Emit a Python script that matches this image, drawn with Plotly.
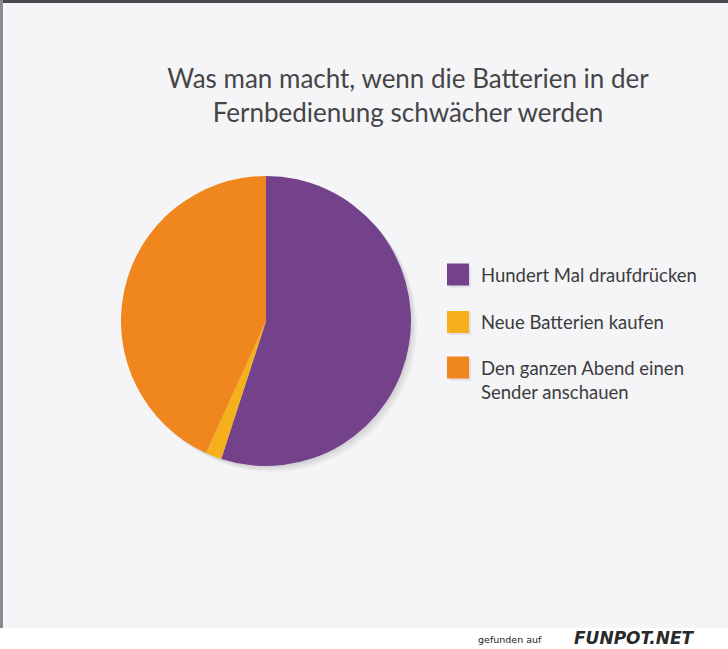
import plotly.graph_objects as go

W, H = 728, 649

labels = ["Hundert Mal draufdrücken", "Neue Batterien kaufen", "Den ganzen Abend einen<br>Sender anschauen"]
values = [55, 1.8, 43.2]
colors = ["#74428a", "#f5b01c", "#f0861e"]

title_text = "Was man macht, wenn die Batterien in der<br>Fernbedienung schwächer werden"

# pie geometry (pixels)
cx, cy, r = 266, 321, 145

fig = go.Figure()
fig.add_trace(go.Pie(
    labels=labels, values=values, sort=False, direction="clockwise", rotation=0,
    marker=dict(colors=colors, line=dict(width=0)),
    textinfo="none", hoverinfo="label+percent", showlegend=False,
    domain=dict(x=[(cx - r) / W, (cx + r) / W], y=[1 - (cy + r) / H, 1 - (cy - r) / H]),
))

shapes = []
# scanned page background
shapes.append(dict(type="rect", xref="paper", yref="paper", x0=0, x1=1, y0=1 - 628 / H, y1=1,
                   fillcolor="#f5f5f7", line=dict(width=0), layer="below"))
shapes.append(dict(type="rect", xref="paper", yref="paper", x0=0, x1=1, y0=1 - 3 / H, y1=1,
                   fillcolor="#4a4a4e", line=dict(width=0), layer="below"))
shapes.append(dict(type="rect", xref="paper", yref="paper", x0=0, x1=3 / W, y0=1 - 628 / H, y1=1,
                   fillcolor="#8a8a90", line=dict(width=0), layer="below"))
# soft pie shadow
for off, op in [(6, 0.05), (4, 0.06), (2, 0.07)]:
    shapes.append(dict(type="circle", xref="paper", yref="paper",
                       x0=(cx - r + off) / W, x1=(cx + r + off) / W,
                       y0=1 - (cy + r + off) / H, y1=1 - (cy - r + off) / H,
                       fillcolor=f"rgba(60,60,70,{op})", line=dict(width=0), layer="below"))

annotations = []
leg_y = [274.5, 322, 367.5]
sq = 22
for lab, col, yc in zip(labels, colors, leg_y):
    shapes.append(dict(type="rect", xref="paper", yref="paper",
                       x0=(447 + 2) / W, x1=(447 + sq + 2) / W,
                       y0=1 - (yc + sq / 2 + 2) / H, y1=1 - (yc - sq / 2 + 2) / H,
                       fillcolor="rgba(80,80,90,0.12)", line=dict(width=0)))
    shapes.append(dict(type="rect", xref="paper", yref="paper",
                       x0=447 / W, x1=(447 + sq) / W,
                       y0=1 - (yc + sq / 2) / H, y1=1 - (yc - sq / 2) / H,
                       fillcolor=col, line=dict(width=0)))
    two = "<br>" in lab
    annotations.append(dict(
        text=lab, xref="paper", yref="paper", x=479 / W,
        y=1 - (yc - 12.5) / H if two else 1 - yc / H,
        yanchor="top" if two else "middle", xanchor="left", align="left", showarrow=False,
        font=dict(family="Lato", size=18.5, color="#3c3c40")))

annotations.append(dict(text="gefunden auf", xref="paper", yref="paper", x=510 / W, y=1 - 639 / H,
                        xanchor="center", yanchor="middle", showarrow=False,
                        font=dict(family="DejaVu Sans", size=9.5, color="#222222")))
annotations.append(dict(text="<b><i>FUNPOT.NET</i></b>", xref="paper", yref="paper", x=634 / W, y=1 - 638 / H,
                        xanchor="center", yanchor="middle", showarrow=False,
                        font=dict(family="DejaVu Sans", size=17, color="#2a2a2a")))

fig.update_layout(
    width=W, height=H, margin=dict(l=0, r=0, t=0, b=0),
    paper_bgcolor="#ffffff", plot_bgcolor="#ffffff",
    title=dict(text=title_text, x=408 / W, xref="paper", xanchor="center",
               y=1 - 88 / H, yref="container", yanchor="middle",
               font=dict(family="Lato", size=26, color="#454548")),
    shapes=shapes, annotations=annotations,
)

fig.write_html("out.html")
